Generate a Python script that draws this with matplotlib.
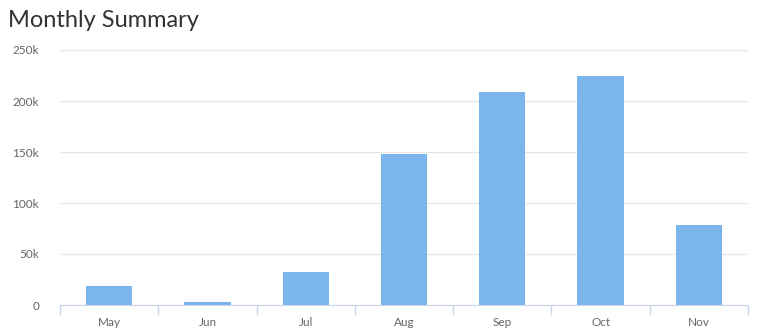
import numpy as np
import matplotlib.pyplot as plt
from matplotlib.ticker import FuncFormatter, FixedLocator

# data
months = ['May', 'Jun', 'Jul', 'Aug', 'Sep', 'Oct', 'Nov']
totals = [19000, 3000, 32000, 148000, 209000, 225000, 78500]
y_ticks = [0, 50000, 100000, 150000, 200000, 250000]

plt.rcParams['font.family'] = ['Lato', 'DejaVu Sans']

fig = plt.figure(figsize=(7.66, 3.35), dpi=100)
ax = fig.add_axes([60 / 766, 30 / 335, 688 / 766, 255 / 335])

x = np.arange(len(months))
ax.bar(x, totals, width=0.47, color='#7cb5ec', zorder=3)

ax.set_xlim(-0.5, len(months) - 0.5)
ax.set_ylim(0, 250000)
ax.set_yticks(y_ticks)
ax.yaxis.set_major_formatter(FuncFormatter(lambda v, p: '0' if v == 0 else '%dk' % (v / 1000)))
ax.set_xticks(x)
ax.set_xticklabels(months)
ax.xaxis.set_minor_locator(FixedLocator(np.arange(len(months) + 1) - 0.5))

ax.grid(axis='y', color='#e6e6e6', linewidth=1, zorder=0)
for s in ['top', 'right', 'left']:
    ax.spines[s].set_visible(False)
ax.spines['bottom'].set_color('#ccd6eb')
ax.spines['bottom'].set_zorder(4)

ax.tick_params(axis='y', length=0, pad=15, labelsize=8.5, labelcolor='#666666')
ax.tick_params(axis='x', which='major', length=0, pad=9, labelsize=8.5, labelcolor='#666666')
ax.tick_params(axis='x', which='minor', length=7, width=1, color='#ccd6eb')

fig.text(8 / 766, 1 - 27 / 335, 'Monthly Summary', fontsize=17, color='#333333',
         ha='left', va='baseline')

fig.savefig('out.png', dpi=100)
